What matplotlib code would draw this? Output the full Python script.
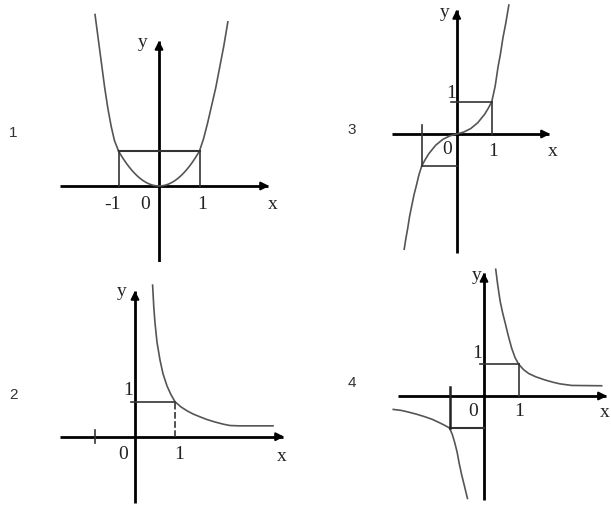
import numpy as np
import matplotlib.pyplot as plt

# curve points (data units of each panel)
p1_left_x = [-1.58, -1.5, -1.42, -1.34, -1.26, -1.18, -1.1, -1.0]
p1_left_y = [4.9, 4.2, 3.5, 2.8, 2.2, 1.7, 1.3, 1.0]
p1_mid_x = np.linspace(-1, 1, 41)
p1_mid_y = p1_mid_x ** 2
p1_right_x = [1.0, 1.1, 1.2, 1.3, 1.4, 1.5, 1.6, 1.70]
p1_right_y = [1.0, 1.35, 1.8, 2.3, 2.8, 3.4, 4.0, 4.69]

p3_x = [-1.5, -1.45, -1.4, -1.35, -1.29, -1.22, -1.15, -1.08, -1.0, -0.9, -0.8, -0.6,
        -0.4, -0.2, 0.0, 0.2, 0.4, 0.6, 0.8, 0.9, 1.0, 1.05, 1.1, 1.18, 1.25, 1.32, 1.4, 1.49]
p3_y = [-3.6, -3.25, -2.95, -2.6, -2.27, -1.9, -1.6, -1.28, -1.0, -0.8, -0.62, -0.35,
        -0.17, -0.06, 0.0, 0.06, 0.17, 0.35, 0.62, 0.8, 1.0, 1.25, 1.5, 2.09, 2.5, 3.0, 3.45, 4.03]

p2_x = [0.44, 0.47, 0.5, 0.55, 0.625, 0.7, 0.8, 0.9, 1.0, 1.15, 1.3, 1.45, 1.62, 1.8,
        2.0, 2.2, 2.37, 2.6, 3.45]
p2_y = [4.33, 3.7, 3.25, 2.7, 2.19, 1.8, 1.45, 1.2, 1.0, 0.85, 0.74, 0.65, 0.57, 0.49,
        0.42, 0.36, 0.32, 0.31, 0.31]

p4_pos_x = [0.34, 0.4, 0.47, 0.54, 0.61, 0.7, 0.8, 0.9, 1.0, 1.15, 1.3, 1.5, 1.77, 2.0,
            2.2, 2.54, 3.41]
p4_pos_y = [3.96, 3.45, 2.95, 2.6, 2.3, 1.9, 1.5, 1.2, 1.0, 0.82, 0.7, 0.6, 0.5, 0.43,
            0.38, 0.33, 0.32]
p4_neg_x = [-2.63, -2.4, -2.2, -1.95, -1.71, -1.5, -1.3, -1.15, -1.0, -0.92, -0.85,
            -0.78, -0.72, -0.65, -0.57, -0.48]
p4_neg_y = [-0.42, -0.45, -0.5, -0.57, -0.65, -0.73, -0.83, -0.91, -1.0, -1.2, -1.45,
            -1.75, -2.1, -2.45, -2.8, -3.2]

W, H = 611, 505
fig = plt.figure(figsize=(W / 100, H / 100), dpi=100)

serif = "Liberation Serif"
sans = "Liberation Sans"
curve_c = "#555555"


def make_ax(box, origin, unit):
    left, top, right, bottom = box
    ox, oy = origin
    ux, uy = unit
    ax = fig.add_axes([left / W, 1 - bottom / H, (right - left) / W, (bottom - top) / H])
    ax.set_xlim((left - ox) / ux, (right - ox) / ux)
    ax.set_ylim((oy - bottom) / uy, (oy - top) / uy)
    ax.axis("off")
    return ax


def axes_arrows(ax, xr, yr):
    ax.plot([xr[0], xr[1] - 0.1], [0, 0], color="k", lw=2, solid_capstyle="butt")
    ax.plot([0, 0], [yr[0], yr[1] - 0.1], color="k", lw=2, solid_capstyle="butt")
    ax.annotate("", xy=(xr[1], 0), xytext=(xr[1] - 0.3, 0),
                arrowprops=dict(arrowstyle="-|>", color="k", lw=1.5, mutation_scale=12))
    ax.annotate("", xy=(0, yr[1]), xytext=(0, yr[1] - 0.3),
                arrowprops=dict(arrowstyle="-|>", color="k", lw=1.5, mutation_scale=12))


def label(ax, x, y, s, size=14):
    ax.text(x, y, s, ha="center", va="center", fontsize=size, family=serif, color="#222222")


def number(ax, x, y, s):
    ax.text(x, y, s, ha="center", va="center", fontsize=11, family=sans, color="#333333")


# panel 1
ax = make_ax((0, 0, 305, 262), (159, 186), (40.5, 35))
axes_arrows(ax, (-2.44, 2.79), (-2.17, 4.23))
ax.plot(p1_left_x, p1_left_y, color=curve_c, lw=1.2)
ax.plot(p1_mid_x, p1_mid_y, color=curve_c, lw=1.2)
ax.plot(p1_right_x, p1_right_y, color=curve_c, lw=1.2)
ax.plot([-1, 1], [1, 1], color="#333333", lw=1.5)
ax.plot([-1, -1], [0, 1], color="#333333", lw=1.2)
ax.plot([1, 1], [0, 1], color="#333333", lw=1.2)
label(ax, 2.81, -0.54, "x")
label(ax, -0.4, 4.09, "y")
label(ax, -1.14, -0.54, "-1")
label(ax, -0.35, -0.54, "0")
label(ax, 1.06, -0.54, "1")
number(ax, -3.6, 1.51, "1")

# panel 3
ax = make_ax((305, 0, 611, 262), (456.7, 134), (35, 32))
axes_arrows(ax, (-1.85, 2.75), (-3.72, 3.97))
ax.plot(p3_x, p3_y, color=curve_c, lw=1.2)
ax.plot([-0.15, 1], [1, 1], color="#333333", lw=1.2)
ax.plot([1, 1], [0, 1], color="#333333", lw=1.2)
ax.plot([-1, 0], [-1, -1], color="#333333", lw=1.2)
ax.plot([-1, -1], [0.28, -1], color="#333333", lw=1.2)
label(ax, -0.33, 3.81, "y")
label(ax, -0.16, 1.28, "1")
label(ax, -0.28, -0.5, "0")
label(ax, 1.04, -0.56, "1")
label(ax, 2.75, -0.56, "x")
number(ax, -2.99, 0.13, "3")

# panel 2
ax = make_ax((0, 262, 305, 505), (135, 436.7), (40, 35))
axes_arrows(ax, (-1.875, 3.8), (-1.9, 4.25))
ax.plot(p2_x, p2_y, color=curve_c, lw=1.2)
ax.plot([-0.1, 1], [1, 1], color="#333333", lw=1.2)
ax.plot([1, 1], [0, 1], color="#333333", lw=1.2, ls=(0, (4, 1.5)))
ax.plot([-1, -1], [-0.18, 0.19], color="#333333", lw=1.2)
label(ax, -0.33, 4.14, "y")
label(ax, -0.18, 1.33, "1")
label(ax, -0.3, -0.52, "0")
label(ax, 1.1, -0.52, "1")
label(ax, 3.67, -0.57, "x")
number(ax, -3.05, 1.19, "2")

# panel 4
ax = make_ax((305, 262, 611, 505), (484, 396), (34.5, 32))
axes_arrows(ax, (-2.49, 3.65), (-3.25, 3.94))
ax.plot(p4_pos_x, p4_pos_y, color=curve_c, lw=1.2)
ax.plot(p4_neg_x, p4_neg_y, color=curve_c, lw=1.2)
ax.plot([-0.12, 1], [1, 1], color="#333333", lw=1.2)
ax.plot([1, 1], [0, 1], color="#333333", lw=1.2)
ax.plot([-1, 0], [-1, -1], color="#333333", lw=1.5)
ax.plot([-1, -1], [0.28, -1], color="#222222", lw=1.8)
label(ax, -0.21, 3.78, "y")
label(ax, -0.21, 1.34, "1")
label(ax, -0.32, -0.49, "0")
label(ax, 1.01, -0.49, "1")
label(ax, 3.51, -0.53, "x")
number(ax, -3.83, 0.41, "4")

fig.savefig("out.png", dpi=100)
